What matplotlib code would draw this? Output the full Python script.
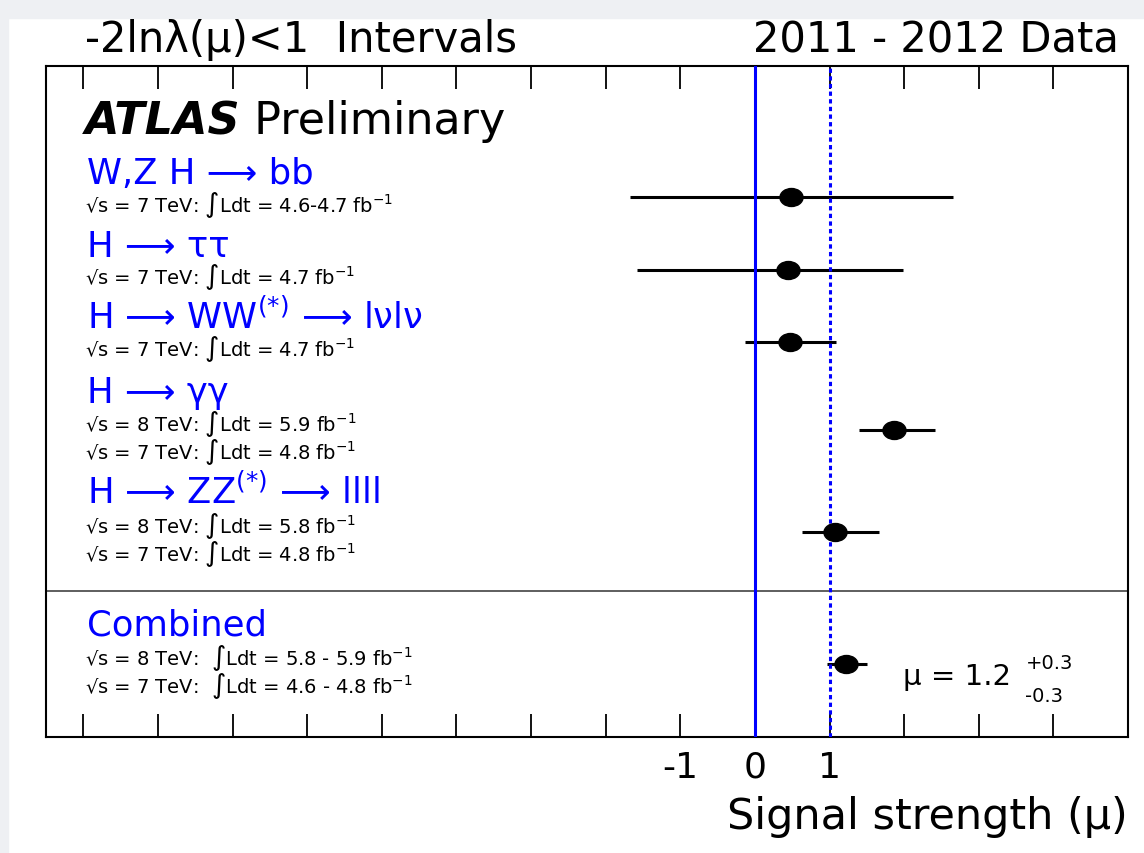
import numpy as np
import matplotlib
matplotlib.use("Agg")
import matplotlib.pyplot as plt
from matplotlib.path import Path
from matplotlib.transforms import Affine2D
from matplotlib.patches import Rectangle

# channels and best-fit signal strength with -2ln(lambda)<1 interval
channels = ["W,Z H ⟶ bb", "H ⟶ ττ", "H ⟶ WW$^{(*)}$ ⟶ lνlν",
            "H ⟶ γγ", "H ⟶ ZZ$^{(*)}$ ⟶ llll", "Combined"]
mu = np.array([0.48, 0.44, 0.47, 1.86, 1.07, 1.22])
mu_lo = np.array([-1.67, -1.58, -0.13, 1.40, 0.63, 0.96])
mu_hi = np.array([2.65, 1.98, 1.09, 2.41, 1.66, 1.50])
lumi = [["√s = 7 TeV: ∫Ldt = 4.6-4.7 fb$^{-1}$"],
        ["√s = 7 TeV: ∫Ldt = 4.7 fb$^{-1}$"],
        ["√s = 7 TeV: ∫Ldt = 4.7 fb$^{-1}$"],
        ["√s = 8 TeV: ∫Ldt = 5.9 fb$^{-1}$", "√s = 7 TeV: ∫Ldt = 4.8 fb$^{-1}$"],
        ["√s = 8 TeV: ∫Ldt = 5.8 fb$^{-1}$", "√s = 7 TeV: ∫Ldt = 4.8 fb$^{-1}$"],
        ["√s = 8 TeV:  ∫Ldt = 5.8 - 5.9 fb$^{-1}$", "√s = 7 TeV:  ∫Ldt = 4.6 - 4.8 fb$^{-1}$"]]
comb_text = "μ = 1.2"
comb_up = "+0.3"
comb_dn = "-0.3"
tick_vals = np.arange(-9, 5)
tick_shown = {-1: "-1", 0: "0", 1: "1"}

# vertical layout of the rows (axis runs 0..67.1)
row_y = [54.0, 46.7, 39.5, 30.7, 20.5, 7.3]
name_y = [55.45, 48.15, 40.95, 33.55, 23.45, 10.3]
lumi_y = [[52.6], [45.4], [38.2], [30.7, 27.9], [20.5, 17.7], [7.3, 4.5]]
blue = "#0000ff"

fig = plt.figure(figsize=(11.44, 8.54), dpi=100)
# faint screenshot border
fig.patches.append(Rectangle((0, 0.978), 1, 0.022, transform=fig.transFigure,
                             color="#eef0f3", zorder=-10))
fig.patches.append(Rectangle((0, 0), 0.007, 1, transform=fig.transFigure,
                             color="#eef0f3", zorder=-10))
ax = fig.add_axes([0.0402, 0.1358, 0.9458, 0.7857])
ax.set_xlim(-9.5, 5)
ax.set_ylim(0, 67.1)

for s in ax.spines.values():
    s.set_linewidth(1.5)
ax.set_xticks(tick_vals)
ax.set_xticklabels([tick_shown.get(int(v), "") for v in tick_vals], fontsize=26)
ax.tick_params(axis="x", direction="in", top=True, length=16.5, width=1.3, pad=9)
ax.set_yticks([])

ax.axvline(0, color=blue, lw=2.2, zorder=3)
ax.axvline(1, color=blue, lw=2.2, ls=(0, (1.4, 1.1)), zorder=3)
ax.axhline(14.6, color="#333333", lw=1.1, zorder=2)

ax.errorbar(mu, row_y, xerr=[mu - mu_lo, mu_hi - mu], fmt="none",
            ecolor="black", elinewidth=2.2, capsize=0, zorder=2)
ell = Path.unit_circle().transformed(Affine2D().scale(1.0, 0.78))
ax.plot(mu, row_y, ls="none", marker=ell, ms=16.6, color="black", zorder=4)

# labels on the left
atlas = ax.text(-8.98, 60.4, "ATLAS", fontsize=32, fontweight="bold",
                fontstyle="italic", va="baseline")
ax.annotate(" Preliminary", xy=(1, 0), xycoords=atlas, fontsize=32,
            va="bottom")
for name, ny, subs, sy in zip(channels, name_y, lumi, lumi_y):
    ax.text(-8.95, ny, name, fontsize=25.5, color=blue, va="baseline")
    for t, y in zip(subs, sy):
        ax.text(-8.98, y, t, fontsize=14, va="baseline")

ax.text(1.98, 5.3, comb_text, fontsize=21, va="baseline")
ax.text(3.63, 6.9, comb_up, fontsize=14, va="baseline")
ax.text(3.62, 3.6, comb_dn, fontsize=14, va="baseline")

ax.text(0.036, 1.022, "-2lnλ(μ)<1  Intervals", transform=ax.transAxes,
        fontsize=30, va="baseline")
ax.text(0.992, 1.022, "2011 - 2012 Data", transform=ax.transAxes,
        fontsize=30, va="baseline", ha="right")
ax.set_xlabel("Signal strength (μ)", fontsize=31, loc="right", labelpad=8)

fig.savefig("out.png", dpi=100)
